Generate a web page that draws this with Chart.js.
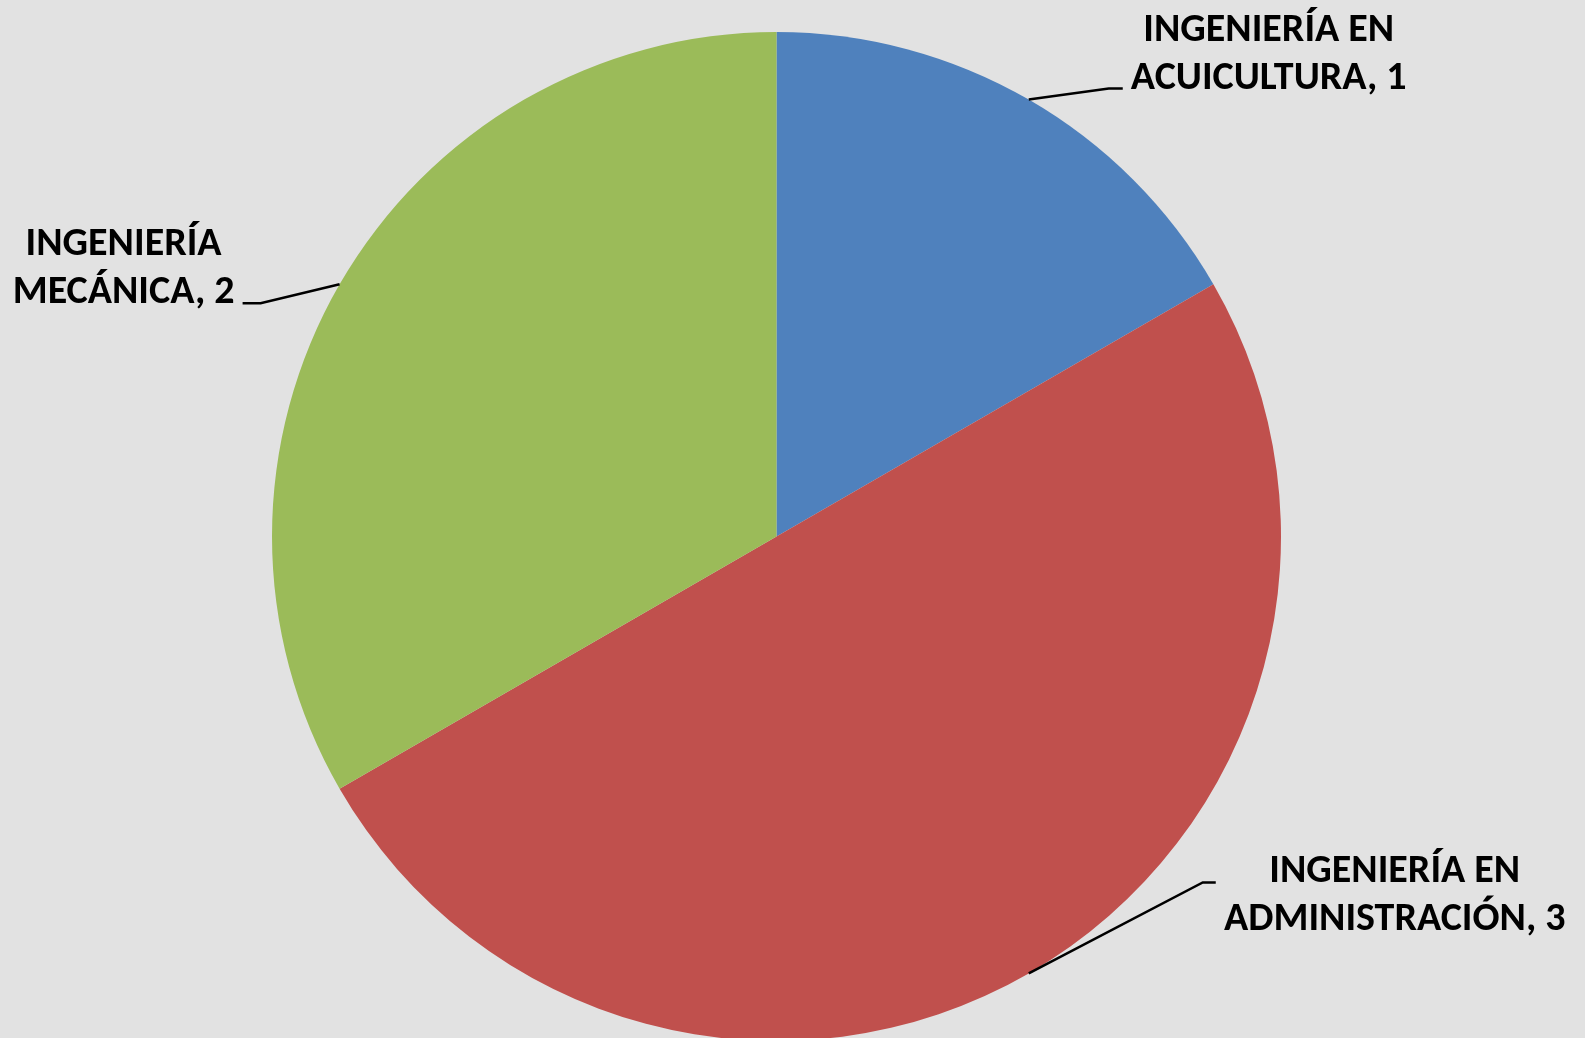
<!DOCTYPE html>
<html>
<head>
<meta charset="utf-8">
<script src="https://cdn.jsdelivr.net/npm/chart.js@4/dist/chart.umd.min.js"></script>
<style>
  html, body { margin: 0; padding: 0; background: #e2e2e2; overflow: hidden; }
  #wrap { width: 1585px; height: 1045px; position: relative; }
</style>
</head>
<body>
<div id="wrap"><canvas id="myChart"></canvas></div>
<script>
// datos del grafico
var carreras = [
    ['INGENIERÍA EN', 'ACUICULTURA'],
    ['INGENIERÍA EN', 'ADMINISTRACIÓN'],
    ['INGENIERÍA', 'MECÁNICA']
];
var alumnos = [1, 3, 2];
var colores = ['#4F81BD', '#C0504D', '#9BBB59'];

// desplazamientos de las etiquetas (codo de la linea, fin y centro del texto) respecto al punto del arco
var etiquetas = [
    { codo: [80, -11], fin: [94, -11], texto: [240, -45] },
    { codo: [174, -91], fin: [187, -91], texto: [366, -77] },
    { codo: [-79, 19], fin: [-97, 19], texto: [-216, -15] }
];

const pluginEtiquetas = {
    id: 'etiquetas',
    afterDraw(chart) {
        const ctx = chart.ctx;
        const arcs = chart.getDatasetMeta(0).data;
        ctx.save();
        arcs.forEach(function (arc, i) {
            const p = arc.getProps(['x', 'y', 'startAngle', 'endAngle', 'outerRadius'], true);
            const mid = (p.startAngle + p.endAngle) / 2;
            const ax = p.x + Math.cos(mid) * p.outerRadius;
            const ay = p.y + Math.sin(mid) * p.outerRadius;
            const e = etiquetas[i];
            ctx.strokeStyle = '#000';
            ctx.lineWidth = 2.5;
            ctx.beginPath();
            ctx.moveTo(ax, ay);
            ctx.lineTo(ax + e.codo[0], ay + e.codo[1]);
            ctx.lineTo(ax + e.fin[0], ay + e.fin[1]);
            ctx.stroke();

            const cx = ax + e.texto[0];
            const cy = ay + e.texto[1];
            const lineas = [carreras[i][0], carreras[i][1] + ', ' + alumnos[i]];
            ctx.fillStyle = '#000';
            ctx.font = 'bold 40px Carlito, Lato, "Open Sans", sans-serif';
            ctx.textAlign = 'center';
            ctx.textBaseline = 'middle';
            ctx.fillText(lineas[0], cx, cy - 24);
            ctx.fillText(lineas[1], cx, cy + 24);
        });
        ctx.restore();
    }
};

const ctx = document.getElementById('myChart');
new Chart(ctx, {
    type: 'pie',
    data: {
        labels: carreras.map(function (c) { return c.join(' '); }),
        datasets: [{
            data: alumnos,
            backgroundColor: colores,
            borderWidth: 0
        }]
    },
    options: {
        responsive: true,
        maintainAspectRatio: false,
        animation: false,
        layout: {
            padding: { top: 32, bottom: 4, left: 272, right: 304 }
        },
        plugins: {
            legend: { display: false },
            tooltip: { enabled: false }
        }
    },
    plugins: [pluginEtiquetas]
});
</script>
</body>
</html>
